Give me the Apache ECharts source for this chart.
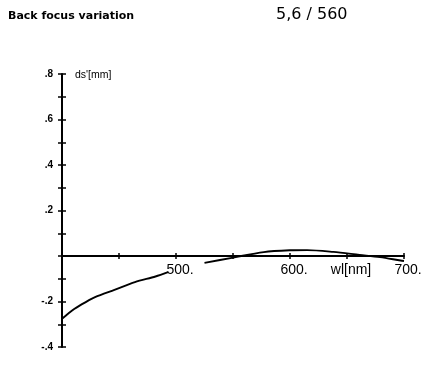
<!DOCTYPE html>
<html><head><meta charset="utf-8">
<script src="https://cdn.jsdelivr.net/npm/echarts@6/dist/echarts.min.js"></script>
<style>html,body{margin:0;padding:0;background:#fff}#c{width:429px;height:367px}</style>
</head><body><div id="c"></div>
<script>
// wavelength (nm); null marks the gap where the "500." label interrupts the curve
var wl = [400, 405, 411, 420, 429, 446, 464, 482, 493, null, 525, 549, 577, 600, 615, 638, 661, 679, 697, 700];
// back focus variation ds' (mm)
var ds = [-0.276, -0.255, -0.232, -0.205, -0.181, -0.149, -0.115, -0.09, -0.071, null, -0.03, -0.008, 0.017, 0.025, 0.026, 0.018, 0.005, -0.005, -0.02, -0.022];
var xLabels = {500: '500.', 600: '600.', 650: 'wl[nm]', 700: '700.'};
var yLabels = {'0.8': '.8', '0.6': '.6', '0.4': '.4', '0.2': '.2', '-0.2': '-.2', '-0.4': '-.4'};
var title1 = 'Back focus variation';
var title2 = '5,6 / 560';
var yName = "ds'[mm]";

var pts = wl.map(function (w, i) { return w === null ? [null, null] : [w, ds[i]]; });
var sans = 'Liberation Sans';
var chart = echarts.init(document.getElementById('c'), null, {renderer: 'canvas'});
var L = 62, R = 25, T = 74, B = 20, ZB = 111;
function xDef(gi, pos, showLine, showTick, showLabel) {
  return {
    gridIndex: gi, position: pos, type: 'value', min: 400, max: 700, interval: 50,
    axisLine: {show: showLine, onZero: false, lineStyle: {color: '#000', width: 2}},
    axisTick: {show: showTick, inside: false, length: 3, lineStyle: {color: '#000', width: 1.5}},
    axisLabel: {show: showLabel, margin: 7, color: '#000', fontFamily: sans, fontSize: 14,
      padding: [0, 0, 0, 8],
      formatter: function (v) { return xLabels[v] || ''; }},
    splitLine: {show: false}
  };
}
function yDef(gi, inside, showLine, showTick, showLabel) {
  return {
    gridIndex: gi, position: 'left', type: 'value', min: -0.4, max: 0.8, interval: 0.1,
    axisLine: {show: showLine, onZero: false, lineStyle: {color: '#000', width: 2}},
    axisTick: {show: showTick, inside: inside, length: 4, lineStyle: {color: '#000', width: 1.5}},
    axisLabel: {show: showLabel, margin: 9, color: '#000', fontFamily: sans, fontSize: 10, fontWeight: 'bold',
      formatter: function (v) { return yLabels[(Math.round(v * 10) / 10).toString()] || ''; }},
    splitLine: {show: false}
  };
}
chart.setOption({
  animation: false,
  backgroundColor: '#fff',
  title: [
    {text: title1, left: 8, top: 11, padding: 0, textStyle: {fontFamily: 'DejaVu Sans', fontSize: 11, fontWeight: 'bold', color: '#000'}},
    {text: title2, left: 276, top: 7, padding: 0, textStyle: {fontFamily: 'DejaVu Sans', fontSize: 16, fontWeight: 'normal', color: '#000'}},
    {text: yName, left: 75, top: 70, padding: 0, textStyle: {fontFamily: sans, fontSize: 10.5, fontWeight: 'normal', color: '#000'}}
  ],
  grid: [
    {left: L, right: R, top: T, bottom: B},          // main plot, y axis with outward ticks
    {left: L, right: R, top: T, bottom: ZB},         // x axis at ds'=0, downward ticks + labels
    {left: L, right: R, top: 256, bottom: B},        // x axis at ds'=0, upward ticks
    {left: L, right: R, top: T, bottom: B}           // y axis inward ticks
  ],
  xAxis: [
    xDef(0, 'bottom', false, false, false),
    xDef(1, 'bottom', true, true, true),
    xDef(2, 'top', false, true, false),
    xDef(3, 'bottom', false, false, false)
  ],
  yAxis: [
    yDef(0, false, true, true, true),
    {gridIndex: 1, type: 'value', show: false, min: 0, max: 1},
    {gridIndex: 2, type: 'value', show: false, min: 0, max: 1},
    yDef(3, true, false, true, false)
  ],
  series: [{
    type: 'line', xAxisIndex: 0, yAxisIndex: 0, data: pts, showSymbol: false, connectNulls: false, smooth: 0.3,
    lineStyle: {color: '#000', width: 1.9}, clip: false
  }]
});
</script></body></html>
